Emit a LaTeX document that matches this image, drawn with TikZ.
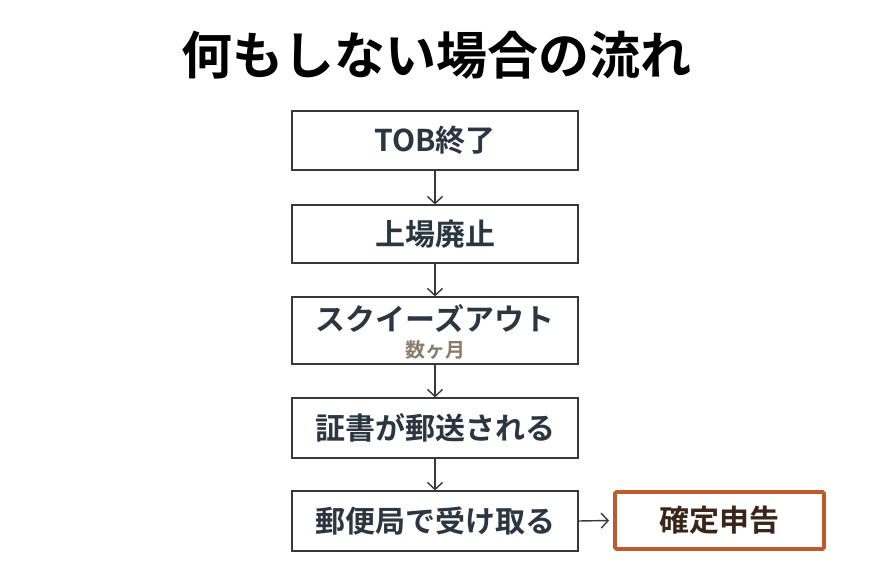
\documentclass[tikz,border=0pt]{standalone}
\usepackage{fontspec}
\setmainfont{Noto Sans CJK JP}
\newfontfamily\jpb{Noto Sans CJK JP Bold}
\usetikzlibrary{arrows.meta}
\definecolor{boxtext}{HTML}{2B3640}
\definecolor{subtext}{HTML}{8A7C6B}
\definecolor{orangeline}{HTML}{BE5A2C}
\definecolor{darkbrown}{HTML}{3A2518}
\definecolor{lineclr}{HTML}{383838}
\tikzset{
  flowbox/.style={draw=lineclr, line width=1.2pt, minimum width=286pt, inner sep=0pt,
    font=\jpb\fontsize{30}{33}\selectfont, text=boxtext, anchor=center},
  finalbox/.style={draw=orangeline, line width=3.8pt, rounded corners=1.5pt, minimum width=209pt,
    minimum height=57pt, inner sep=0pt, font=\jpb\fontsize{30}{33}\selectfont, text=darkbrown},
  flowarrow/.style={draw=lineclr, line width=1.4pt, -{Straight Barb[length=7pt,width=15pt,line width=1.4pt]}}
}
\begin{document}
\begin{tikzpicture}[x=1pt,y=-1pt]
\useasboundingbox[fill=white] (0,0) rectangle (870,583);
\node[font=\jpb\fontsize{51}{56}\selectfont, text=black] (title) at (436,55) {何もしない場合の流れ};
\node[flowbox, minimum height=59pt] (b1) at (435,140.5) {TOB終了};
\node[flowbox, minimum height=58pt] (b2) at (435,234) {上場廃止};
\node[flowbox, minimum height=67pt] (b3) at (435,330.5) {};
\node[font=\jpb\fontsize{30}{33}\selectfont, text=boxtext] (b3a) at (435,319) {スクイーズアウト};
\node[font=\jpb\fontsize{20}{22}\selectfont, text=subtext] (b3b) at (435,350) {数ヶ月};
\node[flowbox, minimum height=60pt] (b4) at (435,428) {証書が郵送される};
\node[flowbox, minimum height=60pt] (b5) at (435,521) {郵便局で受け取る};
\node[finalbox] (b6) at (719.5,520.5) {確定申告};
\draw[flowarrow] (b1.south) -- (b2.north);
\draw[flowarrow] (b2.south) -- (b3.north);
\draw[flowarrow] (b3.south) -- (b4.north);
\draw[flowarrow] (b4.south) -- (b5.north);
\draw[flowarrow] (b5.east) -- ([xshift=-4pt]b6.west);
\end{tikzpicture}
\end{document}
